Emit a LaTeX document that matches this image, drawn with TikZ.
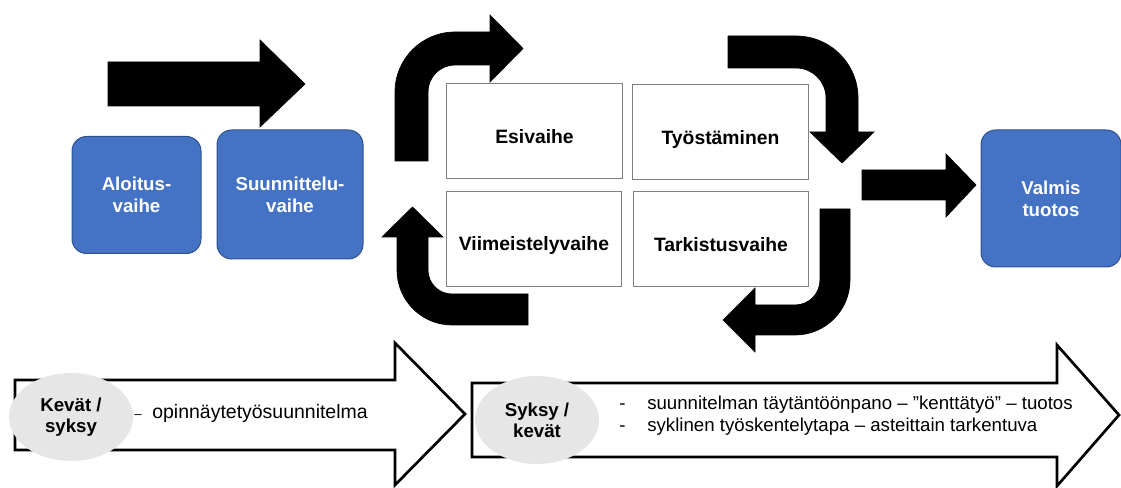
\documentclass[tikz,border=0pt]{standalone}
\usepackage{fontspec}
\setmainfont{Liberation Sans}
\usetikzlibrary{shapes.geometric}
\definecolor{boxblue}{HTML}{4472C4}
\definecolor{boxblueedge}{HTML}{2F528F}
\definecolor{boxgray}{HTML}{808080}
\definecolor{ellgray}{HTML}{E6E6E6}
\begin{document}
\begin{tikzpicture}[x=0.75pt,y=-0.75pt,
  bluebox/.style={draw=boxblueedge, line width=0.75pt, fill=boxblue, rounded corners=11pt,
    text=white, font=\fontsize{14pt}{16.5pt}\selectfont\bfseries, align=center, inner sep=0pt},
  whitebox/.style={draw=boxgray, line width=0.75pt, fill=white,
    font=\fontsize{14.5pt}{16.5pt}\selectfont\bfseries, inner sep=0pt,
    minimum width=131.5pt, minimum height=71.25pt, text height=18pt, text depth=0pt},
  blockarrow/.style={fill=black, draw=black, line width=0.5pt, line join=miter},
  hollowarrow/.style={draw=black, line width=2pt, fill=white, line join=miter},
  season/.style={ellipse, fill=ellgray, minimum width=93pt, minimum height=66pt, inner sep=0pt,
    align=center, font=\fontsize{14pt}{15.5pt}\selectfont\bfseries},
  listtext/.style={font=\fontsize{14pt}{16.5pt}\selectfont, anchor=west, inner sep=0pt, align=left}
]
\useasboundingbox (0,0) rectangle (1121,488);

% blue phase boxes
\node[bluebox, minimum width=96.75pt, minimum height=87.75pt] (aloitus) at (136.5,195) {Aloitus-\\vaihe};
\node[bluebox, minimum width=109.5pt, minimum height=96.75pt] (suunnittelu) at (290,194.5) {Suunnittelu-\\vaihe};
\node[bluebox, minimum width=105pt, minimum height=102.75pt] (valmis) at (1051,198.5) {Valmis\\tuotos};

% cycle boxes
\node[whitebox] (esivaihe) at (534.5,131.5) {Esivaihe};
\node[whitebox] (tyostaminen) at (720.5,132.5) {Työstäminen};
\node[whitebox] (viimeistely) at (534,239) {Viimeistelyvaihe};
\node[whitebox] (tarkistus) at (721,239.5) {Tarkistusvaihe};

% straight block arrows
\draw[blockarrow] (108,62) -- (260,62) -- (260,40) -- (305,84) -- (260,127) -- (260,106) -- (108,106) -- cycle;
\draw[blockarrow] (862,170) -- (946,170) -- (946,154) -- (976,185) -- (946,217) -- (946,200) -- (862,200) -- cycle;

% bent block arrows of the cycle
\draw[blockarrow] (395,161) -- (395,92) arc[start angle=180, end angle=270, radius=60]
  -- (490,32) -- (490,15) -- (523,48.5) -- (490,82) -- (490,65) -- (455,65)
  arc[start angle=270, end angle=180, radius=27] -- (428,161) -- cycle;
\draw[blockarrow] (728,36) -- (796,36) arc[start angle=270, end angle=360, radius=62]
  -- (858,132) -- (874,132) -- (842,163) -- (810,132) -- (826,132) -- (826,98)
  arc[start angle=0, end angle=-90, radius=30] -- (728,68) -- cycle;
\draw[blockarrow] (820,209) -- (850,209) -- (850,280) arc[start angle=0, end angle=90, radius=55]
  -- (755,335) -- (755,352) -- (723,320) -- (755,288) -- (755,305) -- (795,305)
  arc[start angle=90, end angle=0, radius=25] -- cycle;
\draw[blockarrow] (528,294) -- (528,325) -- (452,325) arc[start angle=90, end angle=180, radius=55]
  -- (397,237) -- (382,237) -- (412.5,207) -- (443,237) -- (428,237) -- (428,270)
  arc[start angle=180, end angle=90, radius=24] -- cycle;

% hollow timeline arrows
\draw[hollowarrow] (15,380) -- (395,380) -- (395,343) -- (465,414) -- (395,485) -- (395,450) -- (15,450) -- cycle;
\draw[hollowarrow] (472,383) -- (1057,383) -- (1057,345) -- (1119,415) -- (1057,486) -- (1057,457) -- (472,457) -- cycle;

% season ellipses
\node[season] (kevat) at (71,417) {Kevät /\\syksy};
\node[season] (syksy) at (537,420) {Syksy /\\kevät};

% texts in the timeline arrows
\node[listtext] (plan) at (134,413) {{\fontsize{10pt}{12pt}\selectfont –}\hspace{8pt}{\fontsize{14.6pt}{16.5pt}\selectfont opinnäytetyösuunnitelma}};
\node[listtext] (work) at (619,416) {\makebox[21pt][l]{-}suunnitelman täytäntöönpano – ”kenttätyö” – tuotos\\
  \makebox[21pt][l]{-}syklinen työskentelytapa – asteittain tarkentuva};
\end{tikzpicture}
\end{document}
